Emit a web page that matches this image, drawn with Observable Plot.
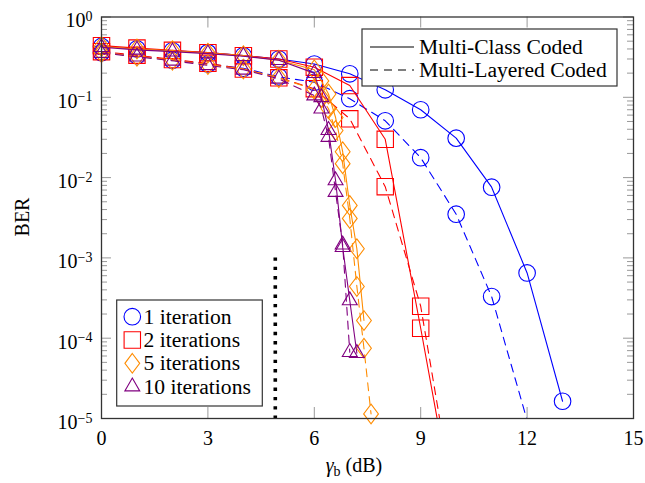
<!DOCTYPE html>
<html><head><meta charset="utf-8">
<script src="https://cdn.jsdelivr.net/npm/d3@7"></script>
<script src="https://cdn.jsdelivr.net/npm/@observablehq/plot@0.6"></script>
<style>
body{margin:0;background:#fff}
svg{font-family:"Liberation Serif","Times New Roman",serif}
</style>
</head><body><div id="chart"></div>
<script>
// ---- data ----
const xTicks = [0, 3, 6, 9, 12, 15];
const yExponents = [0, -1, -2, -3, -4, -5];
const minorMultipliers = [2, 3, 4, 5, 6, 7, 8, 9];
const shannonSnr = [4.9];
const shannonBer = [1e-3, 1e-5];

const iterLabels = ["1 iteration", "2 iterations", "5 iterations", "10 iterations"];
const schemeLabels = ["Multi-Class Coded", "Multi-Layered Coded"];

// 1 iteration
const snrMC1 = [0,1,2,3,4,5,6,7,8,9,10,11,12,13];
const berMC1 = [0.43,0.40,0.38,0.36,0.33,0.30,0.26,0.196,0.124,0.070,0.031,0.0076,6.5e-4,1.64e-5];
const snrML1 = [0,1,2,3,4,5,6,7,8,9,10,11,12];
const berML1 = [0.36,0.33,0.29,0.26,0.23,0.18,0.154,0.096,0.051,0.0177,0.0035,3.3e-4,9.5e-6];
// 2 iterations
const snrMC2 = [0,1,2,3,4,5,6,7,8,9,10];
const berMC2 = [0.44,0.41,0.385,0.36,0.33,0.30,0.237,0.14,0.030,1.33e-4,5e-7];
const snrML2 = [0,1,2,3,4,5,6,7,8,9,10];
const berML2 = [0.37,0.335,0.295,0.265,0.225,0.175,0.128,0.054,0.0077,2.5e-4,6e-7];
// 5 iterations
const snrMC5 = [0,1,2,3,4,5,6,6.2,6.4,6.6,6.8,7.0,7.2,7.4];
const berMC5 = [0.43,0.40,0.38,0.355,0.33,0.29,0.22,0.16,0.11,0.056,0.021,0.0045,0.0013,1.66e-4];
const snrML5 = [0,1,2,3,4,5,6,6.2,6.4,6.6,6.8,7.0,7.2,7.4,7.6];
const berML5 = [0.36,0.325,0.29,0.255,0.225,0.175,0.125,0.1,0.072,0.0386,0.0149,0.0031,4.4e-4,7.5e-5,1.14e-5];
// 10 iterations
const snrMC10 = [0,1,2,3,4,5,6,6.2,6.4,6.6,6.8,7.0,7.2];
const berMC10 = [0.42,0.39,0.37,0.35,0.325,0.29,0.2,0.1,0.039,0.0092,0.00136,2.95e-4,6.5e-5];
const snrML10 = [0,1,2,3,4,5,6,6.2,6.4,6.6,6.8,7.0];
const berML10 = [0.355,0.32,0.285,0.25,0.22,0.17,0.105,0.072,0.032,0.0066,0.00146,6.7e-5];

// ---- styles ----
const colors = ["#0000ff", "#ff0000", "#ff8c00", "#800080"];
const dash = "8,6";
const fontSize = 20;
const legendFont = 21.6;

// custom marker shapes (pgfplots-like)
const symCircle = {draw(c){ const r = 8.3; c.moveTo(r,0); c.arc(0,0,r,0,2*Math.PI); c.closePath(); }};
const symSquare = {draw(c){ const h = 8.2; c.moveTo(-h,-h); c.lineTo(h,-h); c.lineTo(h,h); c.lineTo(-h,h); c.closePath(); }};
const symDiamond = {draw(c){ const H = 9.8, W = 7.4; c.moveTo(0,-H); c.lineTo(W,0); c.lineTo(0,H); c.lineTo(-W,0); c.closePath(); }};
const symTriangle = {draw(c){ const r = 8.6; c.moveTo(0,-r); c.lineTo(0.866*r,0.5*r); c.lineTo(-0.866*r,0.5*r); c.closePath(); }};
const symbols = [symCircle, symSquare, symDiamond, symTriangle];

const series = [
  {iter:0, scheme:0, x:snrMC1, y:berMC1}, {iter:0, scheme:1, x:snrML1, y:berML1},
  {iter:1, scheme:0, x:snrMC2, y:berMC2}, {iter:1, scheme:1, x:snrML2, y:berML2},
  {iter:2, scheme:0, x:snrMC5, y:berMC5}, {iter:2, scheme:1, x:snrML5, y:berML5},
  {iter:3, scheme:0, x:snrMC10, y:berMC10}, {iter:3, scheme:1, x:snrML10, y:berML10}
];

const yMin = 1e-5, yMax = 1;
const majorTicks = yExponents.map(e => 10 ** e);
const minorTicks = yExponents.slice(1).flatMap(e => minorMultipliers.map(m => m * 10 ** e));

// tick lengths in data units (frame is 532 px over 15 dB, 80.3 px per decade)
const pxX = 15 / 532, decPerPx = 1 / 80.3;
const tickMarks = [
  Plot.ruleY(majorTicks, {y: d => d, x1: 0, x2: 10 * pxX, stroke: "#999", strokeWidth: 1}),
  Plot.ruleY(majorTicks, {y: d => d, x1: 15 - 10 * pxX, x2: 15, stroke: "#999", strokeWidth: 1}),
  Plot.ruleY(minorTicks, {y: d => d, x1: 0, x2: 6 * pxX, stroke: "#999", strokeWidth: 1}),
  Plot.ruleY(minorTicks, {y: d => d, x1: 15 - 6 * pxX, x2: 15, stroke: "#999", strokeWidth: 1}),
  Plot.ruleX(xTicks.slice(1, -1), {x: d => d, y1: yMin, y2: yMin * 10 ** (11 * decPerPx), stroke: "#999", strokeWidth: 1}),
  Plot.ruleX(xTicks.slice(1, -1), {x: d => d, y1: yMax * 10 ** (-11 * decPerPx), y2: yMax, stroke: "#999", strokeWidth: 1})
];

const seriesMarks = series.flatMap(s => {
  const rows = s.x.map((x, i) => ({x, y: s.y[i]}));
  return [
    Plot.line(rows, {x: "x", y: "y", stroke: colors[s.iter], strokeWidth: 1.1,
      strokeDasharray: s.scheme === 1 ? dash : null, clip: true}),
    Plot.dot(rows.filter(d => d.y >= yMin), {x: "x", y: "y", symbol: symbols[s.iter],
      stroke: colors[s.iter], strokeWidth: 1.1, fill: "none", r: 5})
  ];
});

const chart = Plot.plot({
  width: 645, height: 483,
  marginLeft: 101, marginRight: 12, marginTop: 16.5, marginBottom: 65,
  style: {fontFamily: '"Liberation Serif","Times New Roman",serif', fontSize: fontSize + "px", background: "#fff", overflow: "visible"},
  x: {domain: [0, 15]},
  y: {type: "log", domain: [yMin, yMax]},
  marks: [
    ...tickMarks,
    Plot.ruleX(shannonSnr, {x: d => d, y1: shannonBer[0], y2: shannonBer[1], stroke: "#000", strokeWidth: 3.6, strokeDasharray: "3.4,5.9"}),
    ...seriesMarks,
    Plot.frame({stroke: "#333", strokeWidth: 1.3}),
    Plot.axisX({ticks: xTicks, tickSize: 0, tickPadding: 12, label: null, fontSize: fontSize}),
    Plot.axisY({ticks: majorTicks, tickSize: 0, tickPadding: 9, label: null, fontSize: fontSize, dy: 4,
      tickFormat: d => String(Math.round(Math.log10(d))).replace("-", "\u2212")})
  ]
});
document.getElementById("chart").appendChild(chart);

const svg = d3.select(chart);
// superscript tick labels 10^k
svg.selectAll('g[aria-label="y-axis tick label"] text').each(function() {
  const t = d3.select(this);
  const exp = t.text();
  t.text(null);
  t.append("tspan").text("10");
  t.append("tspan").attr("dy", "-0.45em").attr("font-size", "0.7em").text(exp);
});

// axis labels
svg.append("text").attr("transform", "translate(23,217) rotate(-90)").attr("text-anchor", "middle")
  .attr("font-size", fontSize).attr("dy", "0.32em").text("BER");
const xl = svg.append("text").attr("x", 354).attr("y", 472).attr("text-anchor", "middle").attr("font-size", fontSize);
xl.append("tspan").attr("font-style", "italic").text("\u03B3");
xl.append("tspan").attr("font-size", "0.7em").attr("dy", "0.3em").text("b");
xl.append("tspan").attr("dy", "-0.21em").text(" (dB)");

function symPath(sym) { const p = d3.path(); sym.draw(p); return p.toString(); }

// legend: schemes (top right)
const lg1 = svg.append("g").attr("text-anchor", "start");
lg1.append("rect").attr("x", 362).attr("y", 29).attr("width", 255).attr("height", 57)
  .attr("fill", "#fff").attr("stroke", "#333").attr("stroke-width", 1.2);
schemeLabels.forEach((lab, i) => {
  const cy = 47 + i * 23;
  lg1.append("line").attr("x1", 370).attr("x2", 414).attr("y1", cy).attr("y2", cy)
    .attr("stroke", "#000").attr("stroke-width", 1.1).attr("stroke-dasharray", i === 1 ? dash : null);
  lg1.append("text").attr("x", 419).attr("y", cy).attr("dy", "0.33em").attr("text-anchor", "start")
    .attr("font-size", legendFont).text(lab);
});

// legend: iterations (bottom left)
const lg2 = svg.append("g").attr("text-anchor", "start");
lg2.append("rect").attr("x", 116.7).attr("y", 300).attr("width", 145.6).attr("height", 106)
  .attr("fill", "#fff").attr("stroke", "#333").attr("stroke-width", 1.2);
iterLabels.forEach((lab, i) => {
  const cy = 316.7 + i * 23.3;
  lg2.append("path").attr("d", symPath(symbols[i])).attr("transform", `translate(132.3,${cy})`)
    .attr("fill", "none").attr("stroke", colors[i]).attr("stroke-width", 1.1);
  lg2.append("text").attr("x", 143.5).attr("y", cy).attr("dy", "0.33em").attr("text-anchor", "start")
    .attr("font-size", legendFont).text(lab);
});
</script>
</body></html>
